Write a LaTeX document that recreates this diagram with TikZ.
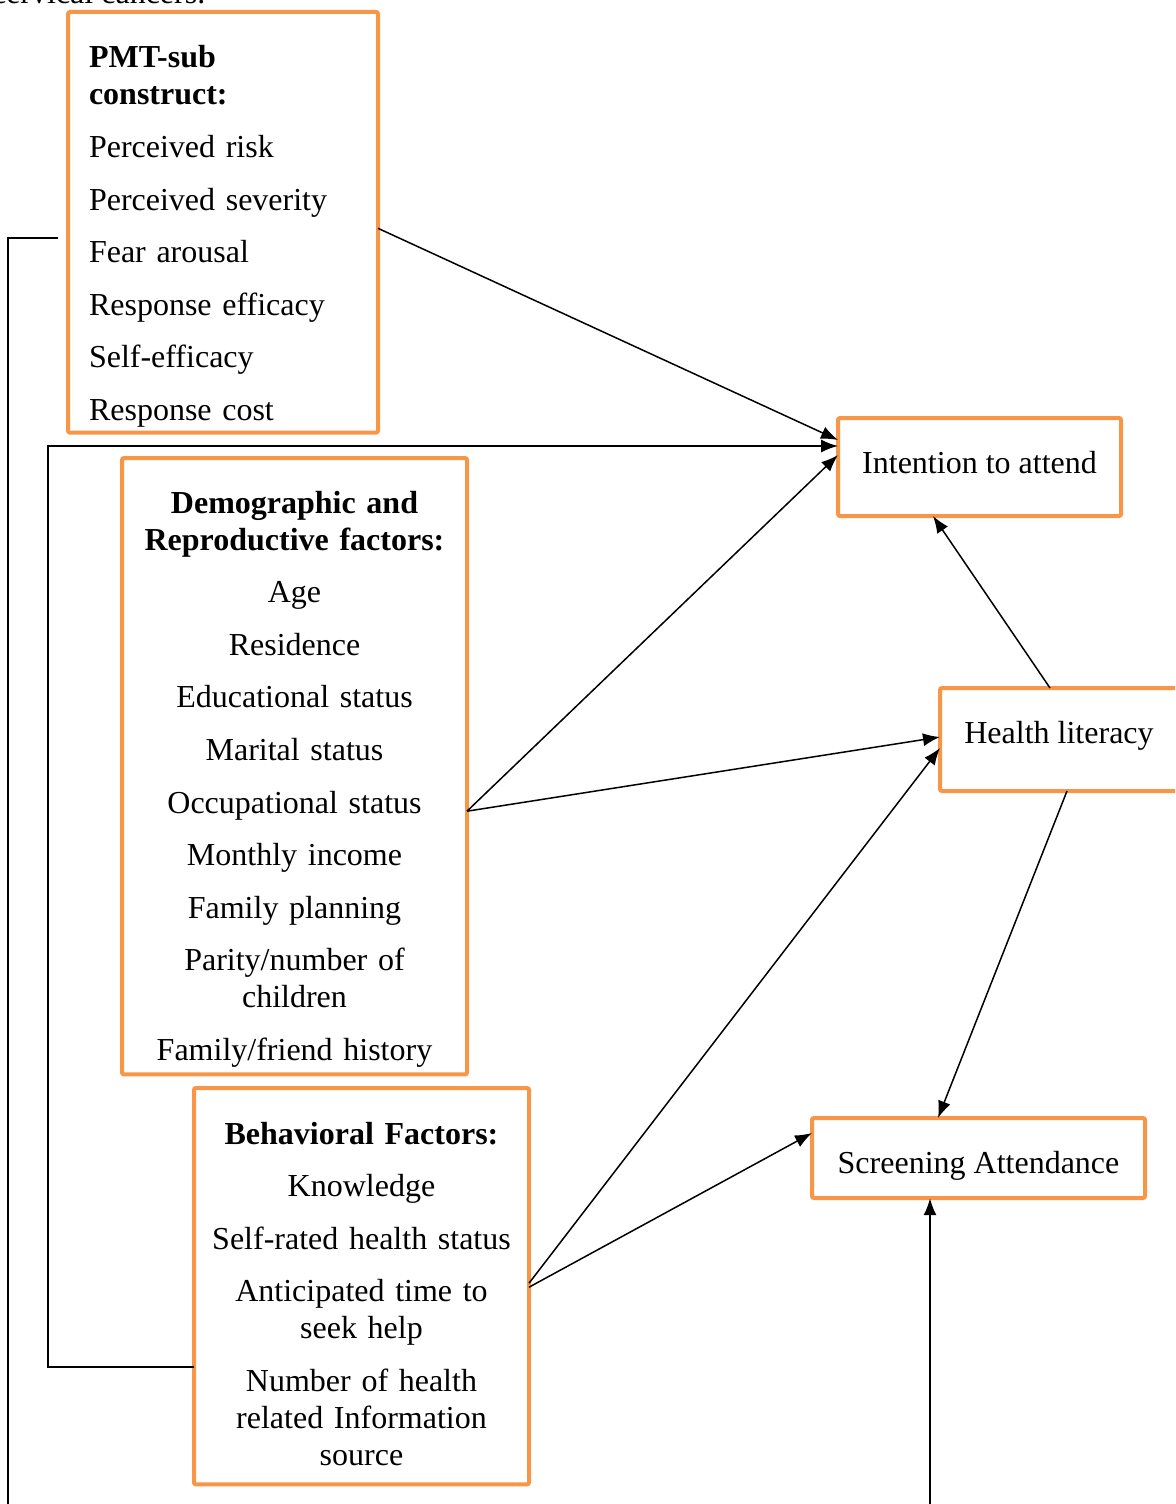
\documentclass[tikz,border=0pt]{standalone}
\usepackage{fontspec}
\setmainfont{Liberation Serif}
\usetikzlibrary{arrows.meta,positioning}
\definecolor{BoxOrange}{HTML}{F79646}

\begin{document}
\begin{tikzpicture}[x=0.5pt, y=-0.5pt,
  box/.style={draw=BoxOrange, line width=2pt, rounded corners=1pt, fill=white,
    inner ysep=0pt, outer sep=0pt, anchor=north west,
    font=\fontsize{16}{18.5}\selectfont},
  arr/.style={-{Latex[length=8.5pt,width=6.5pt]}, line width=0.75pt}]
  \useasboundingbox (0,0) rectangle (1175,1504);
  \clip (0,0) rectangle (1175,1504);
  \node[anchor=base west, font=\fontsize{16}{18.5}\selectfont] (topline) at (-15,4) {cervical cancers.};
  \node[box, text width=134pt, inner xsep=10.5pt, align=left] (pmt) at (68,12)
    {\rule{0pt}{28pt}\textbf{PMT-sub}\\ \textbf{construct:}\\[7.8pt]
     Perceived risk\\[7.8pt] Perceived severity\\[7.8pt] Fear arousal\\[7.8pt]
     Response efficacy\\[7.8pt] Self-efficacy\\[7.8pt] Response cost\rule[-6pt]{0pt}{6pt}};
  \node[box, text width=162.5pt, inner xsep=5pt, align=center] (demo) at (122,458)
    {\rule{0pt}{27.5pt}\textbf{Demographic and}\\ \textbf{Reproductive factors:}\\[7.8pt]
     Age\\[7.8pt] Residence\\[7.8pt] Educational status\\[7.8pt] Marital status\\[7.8pt]
     Occupational status\\[7.8pt] Monthly income\\[7.8pt] Family planning\\[7.8pt]
     Parity/number of\\ children\\[7.8pt] Family/friend history\rule[-7pt]{0pt}{7pt}};
  \node[box, text width=159.5pt, inner xsep=4pt, align=center] (behav) at (194,1088)
    {\rule{0pt}{28pt}\textbf{Behavioral Factors:}\\[7.8pt] Knowledge\\[7.8pt]
     Self-rated health status\\[7.8pt] Anticipated time to\\ seek help\\[7.8pt]
     Number of health\\ related Information\\ source\rule[-9.5pt]{0pt}{9.5pt}};
  \node[box, inner xsep=0pt, minimum width=141.5pt, minimum height=49pt,
    text height=11pt, text depth=5pt] (intent) at (838,418) {Intention to attend};
  \node[box, inner xsep=0pt, minimum width=119pt, minimum height=51.5pt,
    text height=11pt, text depth=7.5pt] (health) at (940,688) {Health literacy};
  \node[box, inner xsep=0pt, minimum width=166.5pt, minimum height=40pt,
    text height=15pt, text depth=0pt] (screen) at (812,1118) {Screening Attendance};
  \draw[arr] ([yshift=-3pt]pmt.east) -- ([yshift=13.5pt]intent.west);
  \draw[arr] ([yshift=-40.5pt]behav.west) -- ++(-73pt,0) |- ([yshift=10.5pt]intent.west);
  \draw[arr] ([yshift=-22.5pt]demo.east) -- ([yshift=6pt]intent.west);
  \draw[arr] ([yshift=-22.5pt]demo.east) -- ([yshift=1.25pt]health.west);
  \draw[arr] ([xshift=-4.5pt]health.north) -- ([xshift=-23.25pt]intent.south);
  \draw[arr] ([xshift=4pt]health.south) -- ([xshift=-20.25pt]screen.north);
  \draw[arr] ([yshift=1.5pt]behav.east) -- ([yshift=-4.25pt]health.west);
  \draw[arr] ([yshift=-0.5pt]behav.east) -- ([yshift=12.5pt]screen.west);
  \draw[arr, line width=1.1pt] ([xshift=-5pt,yshift=-8pt]pmt.west) -| (8,1560) -| ([xshift=-24.25pt]screen.south);
\end{tikzpicture}
\end{document}
